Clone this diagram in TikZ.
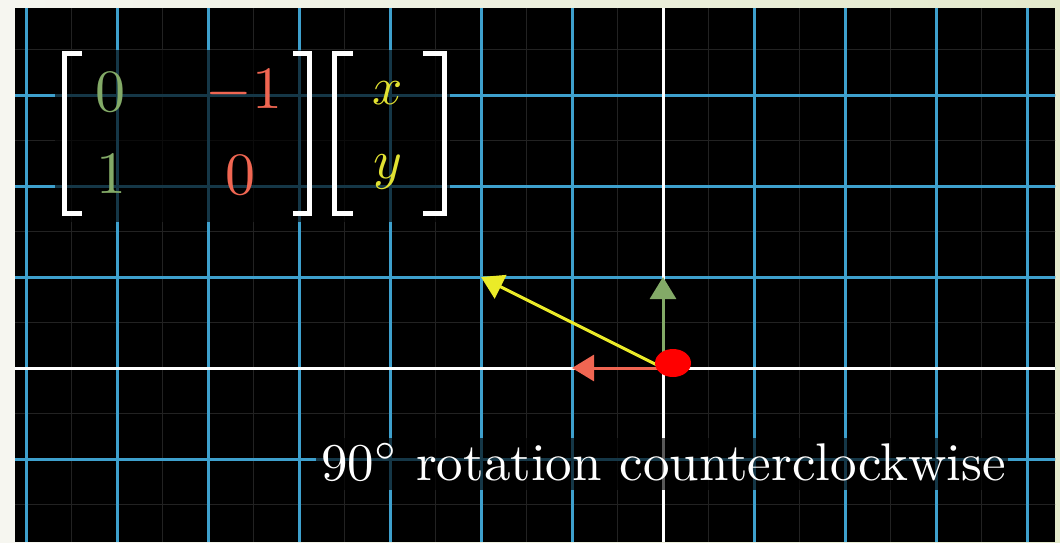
\documentclass[tikz,border=0pt]{standalone}
\usepackage{graphicx}
\usepackage{fontspec}
\usetikzlibrary{arrows.meta,shapes.geometric}
\definecolor{frameL}{RGB}{246,246,240}
\definecolor{frameR}{RGB}{228,234,205}
\definecolor{gridblue}{RGB}{62,160,205}
\definecolor{gridminor}{RGB}{34,34,34}
\definecolor{mgreen}{RGB}{131,170,103}
\definecolor{mred}{RGB}{240,102,82}
\definecolor{myellow}{RGB}{225,225,50}
\definecolor{vyellow}{RGB}{235,235,40}
\newcommand{\entrytext}[2][6]{\scalebox{#1}{\fontsize{10}{12}\selectfont #2}}
\newcommand{\captext}[1]{\scalebox{5.3}{\fontsize{10}{12}\selectfont #1}}
\tikzset{
  minorline/.style={draw=gridminor, line width=1.5pt},
  majorline/.style={draw=gridblue, line width=3pt},
  axisline/.style={draw=white, line width=3pt},
  brk/.style={draw=white, line width=5pt, miter limit=10},
  vec/.style={line width=3pt, -{Triangle[length=22pt,width=26pt]}},
  entry/.style={inner sep=0pt},
  caption/.style={inner sep=0pt, text=white}
}
\begin{document}
\begin{tikzpicture}[x=1pt,y=-1pt]
\useasboundingbox (0,0) rectangle (1060,542);
\shade[left color=frameL, right color=frameR] (0,0) rectangle (1060,542);
\fill[black] (15,8) rectangle (1055,542);
\begin{scope}
  \clip (15,8) rectangle (1055,542);
  \foreach \i in {-15,...,9} \draw[minorline] ({663+45.5*\i},0) -- ++(0,542);
  \foreach \j in {-9,...,5} \draw[minorline] (0,{368+45.5*\j}) -- ++(1060,0);
  \foreach \i in {-7,...,4} \draw[majorline] ({663+91*\i},0) -- ++(0,542);
  \foreach \j in {-4,...,1} \draw[majorline] (0,{368+91*\j}) -- ++(1060,0);
  \draw[axisline] (663,0) -- (663,542);
  \draw[axisline] (0,368) -- (1060,368);
\end{scope}
% vectors
\coordinate (O) at (663,368);
\coordinate (G) at (663,277);
\coordinate (R) at (572,368);
\coordinate (Y) at (481,277);
\draw[vec, draw=mgreen, fill=mgreen] (O) -- (G);
\draw[vec, draw=mred, fill=mred] (O) -- (R);
\draw[vec, draw=vyellow, fill=vyellow] (O) -- (Y);
\node[ellipse, fill=red, minimum width=36pt, minimum height=28pt, inner sep=0pt] (dot) at (673,363) {};
% matrix
\fill[black, opacity=0.65] (55,50) rectangle (450,222);
\draw[brk] (82,53.5) -- (64.5,53.5) -- (64.5,213.5) -- (82,213.5);
\draw[brk] (293,53.5) -- (309.5,53.5) -- (309.5,213.5) -- (293,213.5);
\draw[brk] (353,53.5) -- (334.5,53.5) -- (334.5,213.5) -- (353,213.5);
\draw[brk] (423,53.5) -- (444.5,53.5) -- (444.5,213.5) -- (423,213.5);
\node[entry, text=mgreen] (a11) at (110,92) {\entrytext{$0$}};
\node[entry, text=mred] (a12) at (244,92) {\entrytext{$-1$}};
\node[entry, text=mgreen] (a21) at (111,174) {\entrytext{$1$}};
\node[entry, text=mred] (a22) at (240,175) {\entrytext{$0$}};
\node[entry, text=myellow] (vx) at (388,93) {\entrytext[5.3]{$x$}};
\node[entry, text=myellow] (vy) at (388,172) {\entrytext[5.5]{$y$}};
% caption
\fill[black, opacity=0.65] (316,438) rectangle (1008,490);
\node[caption, anchor=base west] (cap) at (321,480) {\captext{90$^\circ$ rotation counterclockwise}};
\end{tikzpicture}
\end{document}
